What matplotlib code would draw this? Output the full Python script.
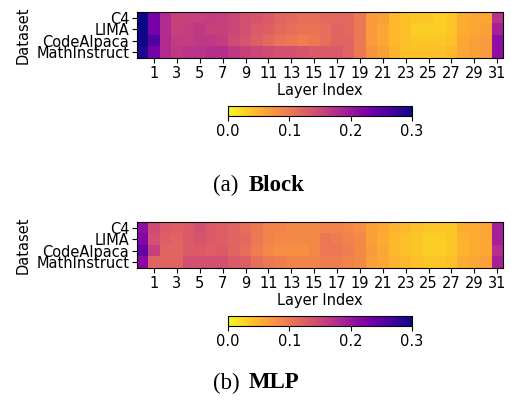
import numpy as np
import matplotlib
matplotlib.use("Agg")
import matplotlib.pyplot as plt

datasets = ["C4", "LIMA", "CodeAlpaca", "MathInstruct"]
layers = list(range(32))

# rough estimates read from the colours of the reference heatmaps
block_c4 = [0.30, 0.23, 0.18, 0.155, 0.155, 0.155, 0.16, 0.155, 0.15, 0.14, 0.135, 0.13, 0.12, 0.115, 0.11, 0.11,
            0.115, 0.115, 0.115, 0.10, 0.07, 0.065, 0.045, 0.04, 0.035, 0.035, 0.03, 0.035, 0.055, 0.06, 0.06, 0.17]
block_lima = [0.30, 0.23, 0.18, 0.155, 0.16, 0.165, 0.155, 0.155, 0.15, 0.14, 0.13, 0.125, 0.115, 0.11, 0.105, 0.105,
              0.11, 0.12, 0.115, 0.10, 0.07, 0.06, 0.045, 0.04, 0.03, 0.03, 0.03, 0.035, 0.055, 0.06, 0.065, 0.19]
block_code = [0.30, 0.26, 0.18, 0.16, 0.16, 0.165, 0.165, 0.16, 0.145, 0.135, 0.125, 0.115, 0.105, 0.10, 0.095, 0.10,
              0.11, 0.12, 0.12, 0.10, 0.07, 0.06, 0.045, 0.04, 0.035, 0.035, 0.035, 0.04, 0.06, 0.065, 0.07, 0.21]
block_math = [0.29, 0.23, 0.18, 0.165, 0.17, 0.17, 0.175, 0.175, 0.165, 0.155, 0.15, 0.145, 0.14, 0.14, 0.135, 0.13,
              0.13, 0.13, 0.12, 0.10, 0.075, 0.065, 0.05, 0.04, 0.04, 0.04, 0.04, 0.045, 0.06, 0.065, 0.07, 0.21]

mlp_c4 = [0.21, 0.145, 0.13, 0.125, 0.13, 0.14, 0.13, 0.125, 0.12, 0.11, 0.10, 0.09, 0.09, 0.085, 0.085, 0.085,
          0.09, 0.09, 0.085, 0.08, 0.065, 0.06, 0.05, 0.045, 0.04, 0.035, 0.035, 0.035, 0.055, 0.055, 0.06, 0.19]
mlp_lima = [0.22, 0.14, 0.125, 0.12, 0.13, 0.135, 0.13, 0.125, 0.12, 0.115, 0.10, 0.09, 0.085, 0.085, 0.085, 0.085,
            0.10, 0.095, 0.09, 0.085, 0.065, 0.055, 0.045, 0.04, 0.035, 0.03, 0.03, 0.035, 0.05, 0.055, 0.06, 0.19]
mlp_code = [0.245, 0.155, 0.12, 0.12, 0.13, 0.13, 0.125, 0.13, 0.12, 0.11, 0.095, 0.085, 0.08, 0.08, 0.08, 0.085,
            0.10, 0.10, 0.095, 0.085, 0.07, 0.06, 0.045, 0.04, 0.035, 0.03, 0.03, 0.035, 0.05, 0.055, 0.06, 0.175]
mlp_math = [0.215, 0.12, 0.12, 0.12, 0.14, 0.14, 0.14, 0.14, 0.13, 0.125, 0.11, 0.10, 0.095, 0.09, 0.09, 0.09,
            0.095, 0.095, 0.09, 0.085, 0.065, 0.06, 0.05, 0.045, 0.04, 0.035, 0.035, 0.04, 0.055, 0.06, 0.065, 0.19]

panels = [
    (np.array([block_c4, block_lima, block_code, block_math]), "(a)", "Block"),
    (np.array([mlp_c4, mlp_lima, mlp_code, mlp_math]), "(b)", "MLP"),
]

fig = plt.figure(figsize=(5.11, 4.07), dpi=100)

heat_pos = [[0.268, 0.8575, 0.716, 0.113], [0.268, 0.3415, 0.716, 0.113]]
cbar_pos = [[0.446, 0.715, 0.360, 0.025], [0.446, 0.199, 0.360, 0.025]]
caption_y = [0.545, 0.059]

for (data, tag, name), hp, cp, cy in zip(panels, heat_pos, cbar_pos, caption_y):
    ax = fig.add_axes(hp)
    im = ax.imshow(data, cmap="plasma_r", vmin=0, vmax=0.3, aspect="auto")
    ax.set_yticks(range(len(datasets)))
    ax.set_yticklabels(datasets, fontsize=10.5)
    ax.set_xticks(layers[1::2])
    ax.set_xticklabels([str(l) for l in layers[1::2]], fontsize=10.5)
    ax.set_xlabel("Layer Index", fontsize=10.5, labelpad=2)
    ax.set_ylabel("Dataset", fontsize=10.5)
    ax.tick_params(pad=2)

    cax = fig.add_axes(cp)
    cb = fig.colorbar(im, cax=cax, orientation="horizontal")
    cb.set_ticks([0.0, 0.1, 0.2, 0.3])
    cb.ax.tick_params(labelsize=10.5, pad=2)

    fig.text(0.417, cy, tag, fontsize=16.5, family="Liberation Serif", ha="left", va="center")
    fig.text(0.487, cy, name, fontsize=16.5, family="Liberation Serif", fontweight="bold",
             ha="left", va="center")

fig.savefig("out.png", dpi=100)
